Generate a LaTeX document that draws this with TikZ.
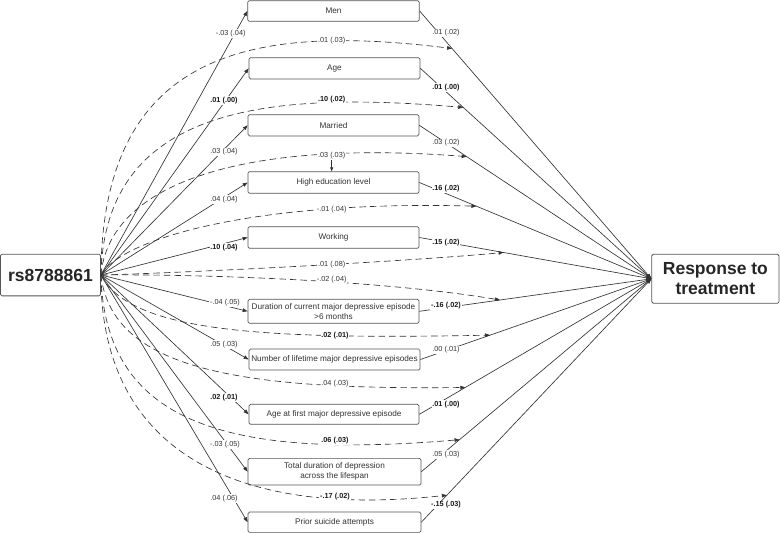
\documentclass[tikz,border=0pt]{standalone}
\usepackage{fontspec}
\setmainfont{Liberation Sans}
\usetikzlibrary{arrows.meta}
\definecolor{ink}{HTML}{333333}
\definecolor{boxline}{HTML}{555555}
\begin{document}
\begin{tikzpicture}[x=1pt,y=-1pt,
  box/.style={draw=boxline,line width=0.7pt,rounded corners=1.5pt,fill=white,inner sep=0pt,align=center,text=ink,font=\fontsize{8.2}{9.8}\selectfont},
  big/.style={draw=boxline,line width=0.8pt,rounded corners=1.5pt,fill=white,inner sep=0pt,align=center,text=black!85,font=\fontsize{17.5}{20}\selectfont\bfseries},
  sol/.style={draw=ink,line width=0.65pt},
  arr/.style={-{Triangle[length=5pt,width=3.6pt]}},
  dsh/.style={draw=ink,line width=0.65pt,dash pattern=on 6.5pt off 4pt},
  lab/.style={fill=white,inner sep=0.8pt,text=ink,font=\fontsize{7.3}{8}\selectfont},
  blab/.style={fill=white,inner sep=0.8pt,text=black!90,font=\fontsize{7.3}{8}\selectfont\bfseries}
]
\useasboundingbox (0,0) rectangle (780,533);

% main nodes
\node[big,minimum width=100pt,minimum height=41.7pt] (rs) at (50.5,275) {rs8788861};
\node[big,minimum width=127.3pt,minimum height=49pt] (resp) at (715.4,278.8) {Response to\\treatment};

% mediator boxes
\node[box,minimum width=171.6pt,minimum height=20.6pt] (men) at (333.5,11) {Men};
\node[box,minimum width=171pt,minimum height=21.3pt] (age) at (334.5,68.3) {Age};
\node[box,minimum width=171pt,minimum height=21.3pt] (mar) at (333.5,125.3) {Married};
\node[box,minimum width=171pt,minimum height=21.6pt] (hedu) at (333.5,182.5) {High education level};
\node[box,minimum width=171pt,minimum height=21.6pt] (work) at (333.5,237.5) {Working};
\node[box,minimum width=171pt,minimum height=24pt] (dur) at (333.5,311.3) {Duration of current major depressive episode\\>6 months};
\node[box,minimum width=171pt,minimum height=21pt] (num) at (334.5,359.5) {Number of lifetime major depressive episodes};
\node[box,minimum width=170pt,minimum height=20pt] (afirst) at (334,414.3) {Age at first major depressive episode};
\node[box,minimum width=173pt,minimum height=26.7pt] (tot) at (334.5,471.7) {Total duration of depression\\across the lifespan};
\node[box,minimum width=173pt,minimum height=20.3pt] (prior) at (334.5,522.2) {Prior suicide attempts};

% rs -> mediators
\foreach \m in {men,age,mar,hedu,work,dur,num,afirst,tot,prior}
  \draw[sol,arr] (rs.east) -- (\m.west);

% mediators -> response (with points for the dashed arrows)
\draw[sol,arr] (men.east) -- coordinate[pos=0.14] (t1) (resp.west);
\draw[sol,arr] (age.east) -- coordinate[pos=0.186] (t2) (resp.west);
\draw[sol,arr] (mar.east) -- coordinate[pos=0.204] (t3) (resp.west);
\draw[sol,arr] (hedu.east) -- coordinate[pos=0.246] (t4) (resp.west);
\draw[sol,arr] (work.east) -- coordinate[pos=0.363] (t5) (resp.west);
\draw[sol,arr] (dur.east) -- coordinate[pos=0.348] (t6) (resp.west);
\draw[sol,arr] (num.east) -- coordinate[pos=0.302] (t7) (resp.west);
\draw[sol,arr] (afirst.east) -- coordinate[pos=0.198] (t8) (resp.west);
\draw[sol,arr] (tot.east) -- coordinate[pos=0.166] (t9) (resp.west);
\draw[sol,arr] (prior.east) -- coordinate[pos=0.111] (t10) (resp.west);

% dashed curves
\draw[dsh,arr] (rs.east) .. controls (102,45) and (260,25) .. (t1);
\draw[dsh,arr] (rs.east) .. controls (105,110) and (260,90) .. (t2);
\draw[dsh,arr] (rs.east) .. controls (110,180) and (250,140) .. (t3);
\draw[dsh,arr] (rs.east) .. controls (120,240) and (250,200) .. (t4);
\draw[dsh,arr] (rs.east) .. controls (180,273) and (400,262) .. (t5);
\draw[dsh,arr] (rs.east) .. controls (200,274) and (380,280) .. (t6);
\draw[dsh,arr] (rs.east) .. controls (130,330) and (250,340) .. (t7);
\draw[dsh,arr] (rs.east) .. controls (112,370) and (240,390) .. (t8);
\draw[dsh,arr] (rs.east) .. controls (105,420) and (220,460) .. (t9);
\draw[dsh,arr] (rs.east) .. controls (100.5,440) and (220,520) .. (t10);

% small arrow under ".03 (.03)"
\coordinate (tick) at (331.7,160);
\draw[sol,-{Triangle[length=4pt,width=3pt]}] (tick) -- (tick |- hedu.north);

% labels: rs -> mediators
\node[lab]  at (230.7,33.3) {-.03 (.04)};
\node[blab] at (224,100.7) {.01 (.00)};
\node[lab]  at (224,151.7) {.03 (.04)};
\node[lab]  at (224,199.3) {.04 (.04)};
\node[blab] at (224,247.3) {.10 (.04)};
\node[lab]  at (225,302.7) {-.04 (.05)};
\node[lab]  at (224,344.5) {.05 (.03)};
\node[blab] at (224,397.3) {.02 (.01)};
\node[lab]  at (225,444.3) {-.03 (.05)};
\node[lab]  at (224,498.3) {.04 (.06)};

% labels: mediators -> response
\node[lab]  at (446,33) {.01 (.02)};
\node[blab] at (446,87.5) {.01 (.00)};
\node[lab]  at (446,142.7) {.03 (.02)};
\node[blab] at (446,188.3) {.16 (.02)};
\node[blab] at (446,242.3) {.15 (.02)};
\node[blab] at (446,305.7) {-.16 (.02)};
\node[lab]  at (446,350) {.00 (.01)};
\node[blab] at (446,404.3) {.01 (.00)};
\node[lab]  at (446,454.3) {.05 (.03)};
\node[blab] at (446,505) {-.15 (.03)};

% labels: dashed
\node[lab]  at (331.7,40.3) {.01 (.03)};
\node[blab] at (331.7,100) {.10 (.02)};
\node[lab]  at (331.7,155.7) {.03 (.03)};
\node[lab]  at (331.7,209.3) {-.01 (.04)};
\node[lab]  at (331.7,264.3) {.01 (.08)};
\node[lab]  at (331.7,280) {-.02 (.04)};
\node[blab] at (335,336) {.02 (.01)};
\node[lab]  at (335,383.3) {.04 (.03)};
\node[blab] at (335,440.7) {.06 (.03)};
\node[blab] at (335,496.7) {-.17 (.02)};
\end{tikzpicture}
\end{document}
